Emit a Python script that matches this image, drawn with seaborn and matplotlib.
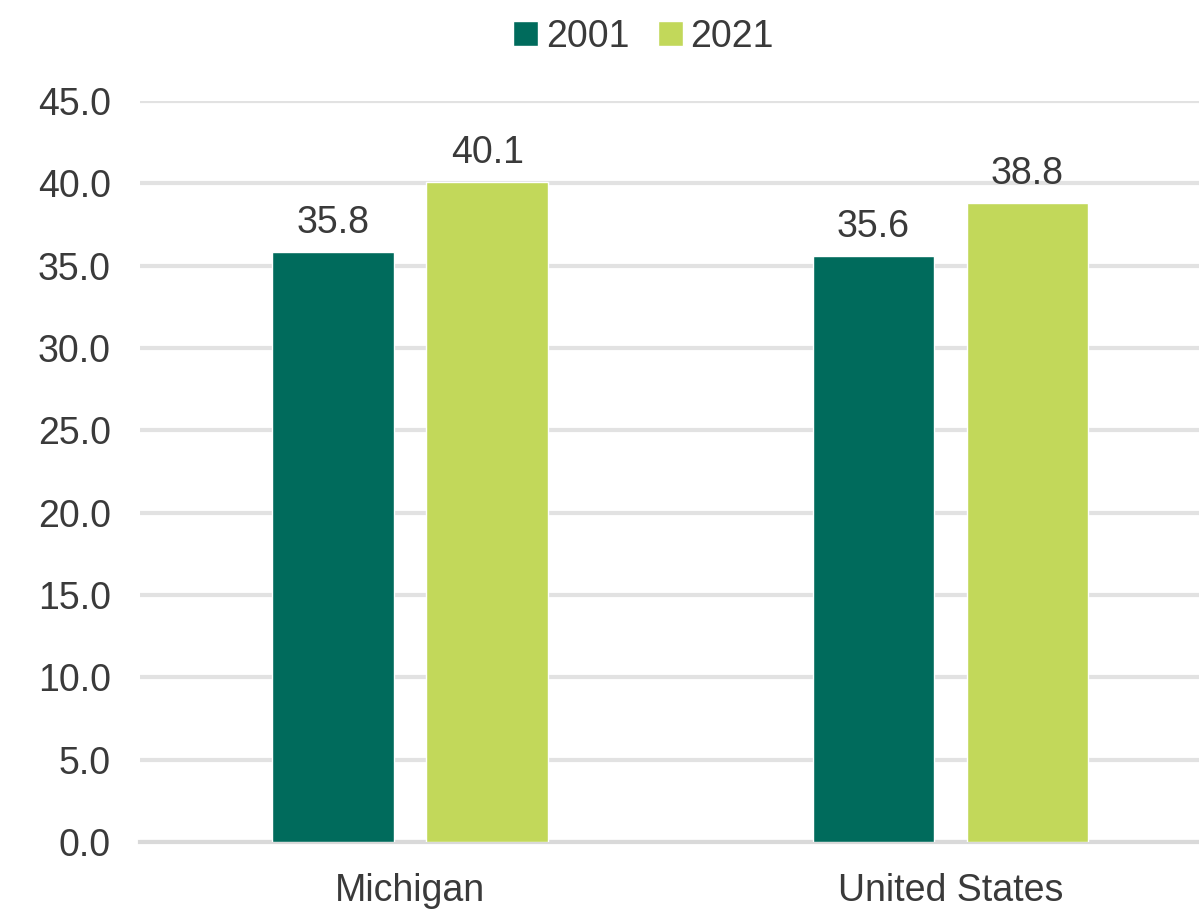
import matplotlib
matplotlib.use('Agg')
import pandas as pd
import seaborn as sns
import matplotlib.pyplot as plt

# values
regions = ['Michigan', 'United States']
years = ['2001', '2021']
values_2001 = [35.8, 35.6]
values_2021 = [40.1, 38.8]
y_ticks = [0, 5, 10, 15, 20, 25, 30, 35, 40, 45]

df = pd.DataFrame({
    'region': regions * 2,
    'year': [years[0]] * len(regions) + [years[1]] * len(regions),
    'value': values_2001 + values_2021,
})

sns.set_style('white')
plt.rcParams['font.family'] = ['Liberation Sans', 'DejaVu Sans']
text_color = '#3A3A3A'
fsize = 27

fig = plt.figure(figsize=(11.99, 9.13), dpi=100)
ax = fig.add_axes([140 / 1199, 71 / 913, 1059 / 1199, 741 / 913])

palette = {'2001': '#006B5C', '2021': '#C2D85A'}
sns.barplot(data=df, x='region', y='value', hue='year', order=regions,
            hue_order=years, palette=palette, width=0.57, gap=0.21,
            saturation=1, ax=ax, zorder=3)

for container in ax.containers:
    ax.bar_label(container, fmt='%.1f', padding=8, fontsize=fsize,
                 color=text_color)

ax.set_ylim(0, 45)
ax.set_xlim(-0.5, 1.46)
ax.set_yticks(y_ticks)
ax.set_yticklabels([f'{t:.1f}' for t in y_ticks])
ax.yaxis.grid(True, color='#E2E2E2', linewidth=3, zorder=0)
ax.set_axisbelow(True)
for side in ['top', 'right', 'left']:
    ax.spines[side].set_visible(False)
ax.spines['bottom'].set_color('#D9D9D9')
ax.spines['bottom'].set_linewidth(3)
ax.tick_params(axis='both', length=0, labelsize=fsize, labelcolor=text_color)
ax.tick_params(axis='y', pad=21)
ax.tick_params(axis='x', pad=22)
ax.set_xlabel('')
ax.set_ylabel('')

leg = ax.legend(loc='upper center', bbox_to_anchor=(0.5 - 26 / 1059, 1 + 116 / 741),
                ncol=2, frameon=False, fontsize=fsize, handlelength=0.68,
                handleheight=0.68, handletextpad=0.2, columnspacing=0.75)
for t in leg.get_texts():
    t.set_color(text_color)

plt.savefig('out.png', dpi=100)
